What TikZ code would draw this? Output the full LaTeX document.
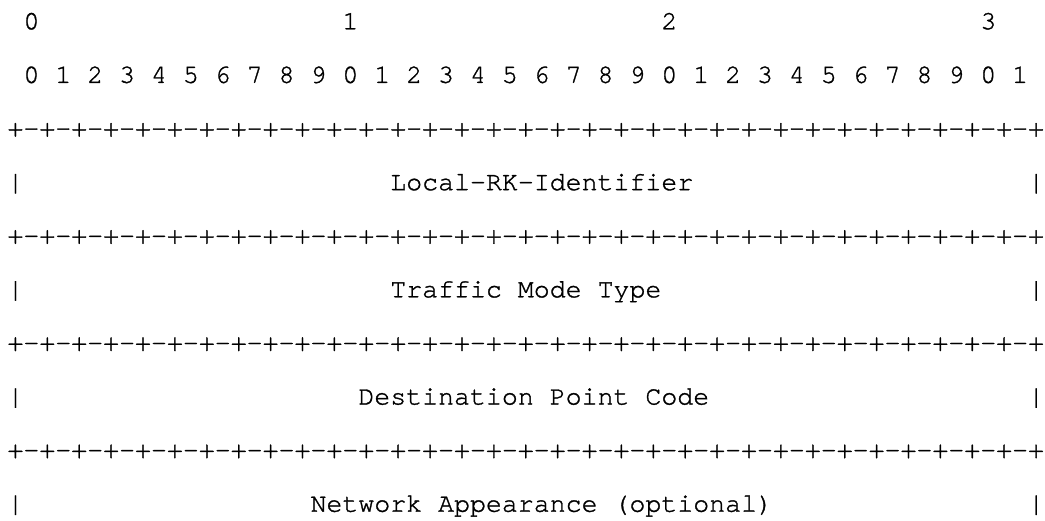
\documentclass[tikz,border=0pt]{standalone}
\usepackage{fontspec}
\setmonofont[Ligatures=CommonOff, FakeBold=1.2]{TeX Gyre Cursor}
\newcommand{\ruleeight}{+-+-+-+-}
\newcommand{\ruleline}{\ruleeight\ruleeight\ruleeight\ruleeight\ruleeight\ruleeight\ruleeight\ruleeight+}
\tikzset{
    ascii/.style={ % one character per column, placed at its baseline
        anchor=base west,
        inner sep=0pt,
        outer sep=0pt,
        font=\ttfamily\fontsize{26.58}{32}\selectfont
    }
}
\begin{document}
\begin{tikzpicture}[x=15.95pt, y=-53.6pt]
    \useasboundingbox (-0.47,-0.547) rectangle (65.05,9.155);
    % bit numbers
    \node[ascii] (tens0) at (1,0)  {0};
    \node[ascii] (tens1) at (21,0) {1};
    \node[ascii] (tens2) at (41,0) {2};
    \node[ascii] (tens3) at (61,0) {3};
    \node[ascii] (ones)  at (1,1)  {0 1 2 3 4 5 6 7 8 9 0 1 2 3 4 5 6 7 8 9 0 1 2 3 4 5 6 7 8 9 0 1};
    % local routing key
    \node[ascii] (rule0)  at (0,2)  {\ruleline};
    \node[ascii] (lrkl)   at (0,3)  {|};
    \node[ascii] (lrk)    at (24,3) {Local-RK-Identifier};
    \node[ascii] (lrkr)   at (64,3) {|};
    % traffic mode
    \node[ascii] (rule1)  at (0,4)  {\ruleline};
    \node[ascii] (tmtl)   at (0,5)  {|};
    \node[ascii] (tmt)    at (24,5) {Traffic Mode Type};
    \node[ascii] (tmtr)   at (64,5) {|};
    % destination
    \node[ascii] (rule2)  at (0,6)  {\ruleline};
    \node[ascii] (dpcl)   at (0,7)  {|};
    \node[ascii] (dpc)    at (22,7) {Destination Point Code};
    \node[ascii] (dpcr)   at (64,7) {|};
    % network appearance
    \node[ascii] (rule3)  at (0,8)  {\ruleline};
    \node[ascii] (nal)    at (0,9)  {|};
    \node[ascii] (na)     at (19,9) {Network Appearance (optional)};
    \node[ascii] (nar)    at (64,9) {|};
\end{tikzpicture}
\end{document}
